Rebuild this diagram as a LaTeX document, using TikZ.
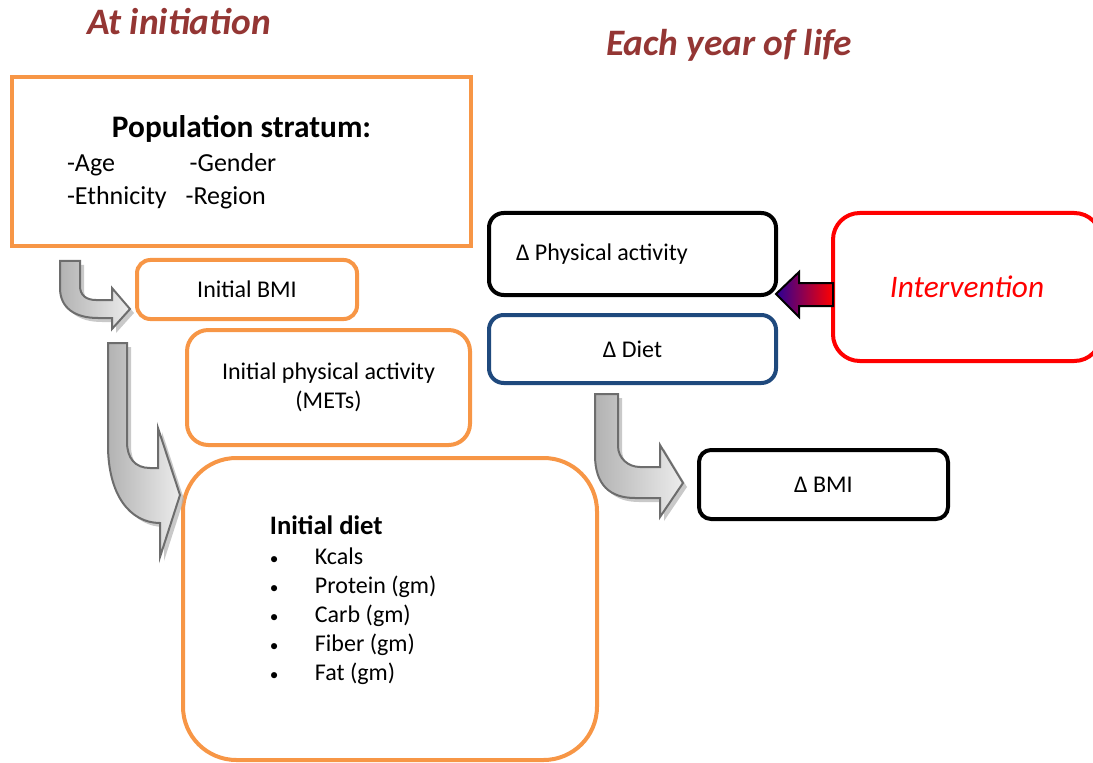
\documentclass[tikz,border=0pt]{standalone}
\usepackage{fontspec}
\setmainfont{Carlito}
\usepackage{tikz}
\usetikzlibrary{shapes, arrows.meta, positioning, calc, shadows}
\definecolor{initorange}{HTML}{F79646}
\definecolor{titlered}{HTML}{943634}
\definecolor{dietblue}{HTML}{1F497D}
\definecolor{arrowgray}{HTML}{6D6D6D}
\definecolor{intblue}{HTML}{2A0096}
\tikzstyle{block} = [rectangle, draw, rounded corners, line width=3pt, inner sep=0pt, font=\fontsize{18pt}{22pt}\selectfont, align=center]
\tikzstyle{initblock} = [block, draw=initorange]
\tikzstyle{yearblock} = [block, draw=black]
\tikzstyle{heading} = [font=\fontsize{28pt}{32pt}\selectfont\bfseries\itshape, text=titlered]
\tikzstyle{fatarrow} = [draw=arrowgray, line width=1.5pt, left color=gray!60, right color=gray!15, drop shadow={shadow xshift=3pt, shadow yshift=-3pt, fill=gray!60, opacity=0.7}]
\newcommand{\dietitem}[1]{\makebox[33.75pt][l]{\fontsize{13pt}{13pt}\selectfont\textbullet}#1\par}

\begin{document}
\begin{tikzpicture}[x=0.75pt, y=-0.75pt]
		\useasboundingbox (0,0) rectangle (1093,763);
		
		\node [heading] (initiation) at (179,22) {At initiation};
		\node [heading] (yearly) at (729,45) {Each year of life};
		
		\node [initblock, sharp corners, minimum width=344.25pt, minimum height=126.75pt, text width=261.75pt, align=flush left] (pop) at (241.5,162) {
			{\centering\fontsize{23.5pt}{28pt}\selectfont\bfseries Population stratum:\par}
			\vspace{1.5pt}
			\fontsize{19.5pt}{24pt}\selectfont
			\makebox[92pt][l]{-Age}-Gender\par
			\vspace{2.5pt}
			\makebox[89pt][l]{-Ethnicity}-Region
		};
		
		\node [initblock, rounded corners=10pt, minimum width=165pt, minimum height=44.25pt] (bmi) at (247,289.5) {Initial BMI};
		
		\node [initblock, rounded corners=16pt, minimum width=212.25pt, minimum height=86.25pt] (activity) at (328.5,387.5) {Initial physical activity\\(METs)};
		
		\node [initblock, rounded corners=40pt, minimum width=310.5pt, minimum height=226.5pt] (diet) at (390,609) {
			\parbox[c][140pt][t]{176pt}{\raggedright
			{\fontsize{20pt}{24pt}\selectfont\bfseries Initial diet\par}
			\vspace{1pt}
			\fontsize{18pt}{21.75pt}\selectfont
			\dietitem{Kcals}
			\dietitem{Protein (gm)}
			\dietitem{Carb (gm)}
			\dietitem{Fiber (gm)}
			\dietitem{Fat (gm)}}
		};
		
		\node [yearblock, rounded corners=11pt, minimum width=215.25pt, minimum height=61.5pt, text width=174.75pt, align=flush left] (dactivity) at (632.5,254) {Δ Physical activity};
		
		\node [block, draw=dietblue, rounded corners=11pt, minimum width=215.25pt, minimum height=51pt] (ddiet) at (632.5,349) {Δ Diet};
		
		\node [yearblock, rounded corners=9pt, minimum width=186.75pt, minimum height=51.75pt] (dbmi) at (823.5,484.5) {Δ BMI};
		
		\node [block, draw=red, rounded corners=20pt, minimum width=201pt, minimum height=111pt, font=\fontsize{23.5pt}{28pt}\selectfont\itshape, text=red] (intervention) at (967,287) {Intervention};
		
		% bent block arrows
		\draw [fatarrow] (60,261) -- (60,288) .. controls (60,308) and (75,318) .. (98,318) -- (112,318) -- (112,329) -- (130,309) -- (112,288) -- (112,300) -- (96,300) .. controls (86,300) and (80,295) .. (80,286) -- (80,261) -- cycle;
		
		\draw [fatarrow] (108,343) -- (108,445) .. controls (108,495) and (130,523) .. (160,523) -- (160,557) -- (180,495) -- (158,428) -- (158,468) -- (150,468) .. controls (135,468) and (127,458) .. (127,442) -- (127,343) -- cycle;
		
		\draw [fatarrow] (595,394) -- (595,455) .. controls (595,485) and (610,498) .. (635,498) -- (660,498) -- (660,517) -- (683,483) -- (660,445) -- (660,467) -- (640,467) .. controls (628,467) and (618,458) .. (618,446) -- (618,394) -- cycle;
		
		% intervention arrow
		\draw [line width=1.5pt, left color=intblue, right color=red, line join=miter] (833,283) -- (799,283) -- (799,272) -- (776,294) -- (799,317) -- (799,306) -- (833,306) -- cycle;
		
	\end{tikzpicture}
\end{document}
